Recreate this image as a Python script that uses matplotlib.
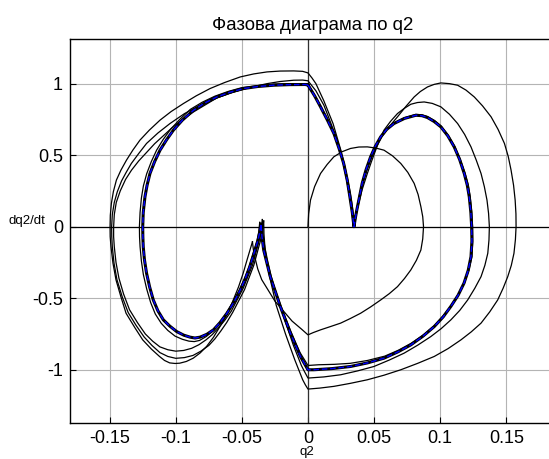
import matplotlib
matplotlib.use('Agg')
import matplotlib.pyplot as plt

plt.rcParams['font.family'] = ['Liberation Sans', 'DejaVu Sans']

# start of the trajectory: small right loop, then up to the first left cusp
start_q = [0.0, 0.0005, 0.0019, 0.005, 0.0095, 0.0145, 0.0196, 0.026, 0.0322, 0.0385, 0.0449,
           0.0512, 0.0575, 0.064, 0.0702, 0.0755, 0.0803, 0.0833, 0.0854, 0.0868, 0.0874,
           0.0868, 0.0854, 0.082, 0.0778, 0.073, 0.0677, 0.0615, 0.055, 0.0475, 0.0398,
           0.032, 0.0247, 0.017, 0.0095, 0.004, 0.0,
           -0.005, -0.012, -0.0185, -0.025, -0.030, -0.035, -0.038, -0.040, -0.0413, -0.042]
start_dq = [0.0, 0.09, 0.186, 0.28, 0.372, 0.435, 0.489, 0.525, 0.547, 0.557, 0.558,
            0.55, 0.535, 0.495, 0.442, 0.38, 0.303, 0.225, 0.14, 0.07, 0.0,
            -0.085, -0.163, -0.235, -0.302, -0.362, -0.419, -0.468, -0.512, -0.56, -0.605,
            -0.642, -0.674, -0.698, -0.721, -0.74, -0.756,
            -0.715, -0.66, -0.59, -0.52, -0.445, -0.37, -0.295, -0.22, -0.16, -0.105]

# lap 1: widest left lobe, widest right lobe
lap1_q = [-0.042, -0.0439, -0.0465, -0.049, -0.0525, -0.0565, -0.061, -0.0666, -0.0715, -0.0767,
          -0.0815, -0.0868, -0.092, -0.097, -0.1005, -0.1046, -0.1085, -0.1123, -0.1185, -0.125,
          -0.131, -0.1376, -0.1415, -0.1452, -0.1475, -0.149, -0.1496, -0.1497, -0.1495, -0.1487,
          -0.1472, -0.1449, -0.1415, -0.1373, -0.1325, -0.1271, -0.12, -0.1119, -0.1035, -0.0942,
          -0.0845, -0.074, -0.063, -0.0512, -0.041, -0.031, -0.021, -0.0108, -0.004, 0.0,
          0.003, 0.006, 0.009, 0.012, 0.0155, 0.019, 0.022, 0.025, 0.0277, 0.030, 0.032,
          0.0335, 0.0343, 0.035,
          0.0358, 0.0375, 0.039, 0.041, 0.0443, 0.048, 0.052, 0.056, 0.0615, 0.0677, 0.074,
          0.0803, 0.085, 0.0904, 0.0955, 0.1005, 0.107, 0.1132, 0.1195, 0.1258, 0.132, 0.1385,
          0.1438, 0.1486, 0.1515, 0.1536, 0.1555, 0.1567, 0.1573, 0.1574, 0.1569, 0.1558, 0.1538,
          0.1511, 0.1476, 0.1435, 0.1375, 0.1309, 0.1235, 0.1157, 0.106, 0.0955, 0.083, 0.0702,
          0.0575, 0.0449, 0.032, 0.0196, 0.009, 0.0,
          -0.002, -0.004, -0.007, -0.010, -0.0135, -0.017, -0.0205, -0.024, -0.0265, -0.029,
          -0.031, -0.0325, -0.0333, -0.0335]
lap1_dq = [-0.105, -0.163, -0.245, -0.325, -0.42, -0.512, -0.61, -0.698, -0.773, -0.837,
           -0.882, -0.919, -0.942, -0.954, -0.956, -0.952, -0.935, -0.907, -0.855, -0.791,
           -0.705, -0.605, -0.49, -0.372, -0.255, -0.14, -0.07, 0.0, 0.08, 0.163,
           0.245, 0.326, 0.395, 0.465, 0.535, 0.605, 0.675, 0.745, 0.805, 0.861,
           0.915, 0.966, 1.008, 1.047, 1.068, 1.082, 1.088, 1.089, 1.086, 1.075,
           1.04, 1.0, 0.94, 0.88, 0.80, 0.72, 0.625, 0.53, 0.43, 0.33, 0.24,
           0.15, 0.075, 0.0,
           0.07, 0.15, 0.225, 0.30, 0.39, 0.48, 0.56, 0.63, 0.70, 0.768, 0.84,
           0.907, 0.945, 0.977, 0.995, 1.005, 1.0, 0.989, 0.955, 0.907, 0.845, 0.768,
           0.68, 0.582, 0.49, 0.396, 0.29, 0.186, 0.09, 0.0, -0.09, -0.186, -0.27,
           -0.349, -0.43, -0.512, -0.595, -0.674, -0.735, -0.791, -0.852, -0.907, -0.955, -1.0,
           -1.038, -1.07, -1.095, -1.116, -1.128, -1.135,
           -1.105, -1.07, -1.0, -0.93, -0.84, -0.75, -0.65, -0.55, -0.45, -0.35,
           -0.25, -0.15, -0.05, 0.04]

# lap 2
lap2_q = [-0.0335, -0.0345, -0.036, -0.0385, -0.041, -0.0445, -0.048, -0.0525, -0.057, -0.0615,
          -0.066, -0.0705, -0.075, -0.081, -0.087, -0.0935, -0.1, -0.106, -0.112, -0.118,
          -0.124, -0.13, -0.136, -0.1405, -0.1445, -0.1467, -0.148, -0.1484, -0.1485, -0.148,
          -0.1465, -0.1442, -0.141, -0.1375, -0.1336, -0.128, -0.1221, -0.1135, -0.1044, -0.0935,
          -0.0816, -0.069, -0.0563, -0.0435, -0.031, -0.021, -0.0108, -0.004, 0.0,
          0.003, 0.006, 0.009, 0.012, 0.0158, 0.0195, 0.023, 0.026, 0.0287, 0.031, 0.033, 0.0345,
          0.0358, 0.038, 0.041, 0.0449, 0.048, 0.051, 0.054, 0.0575, 0.0625, 0.0677, 0.0728,
          0.0778, 0.0828, 0.0879, 0.094, 0.1005, 0.107, 0.1132, 0.1185, 0.1233, 0.1273, 0.1309,
          0.1334, 0.1354, 0.1366, 0.1372, 0.1369, 0.136, 0.1338, 0.1309, 0.1262, 0.1208, 0.1148,
          0.1081, 0.1008, 0.0929, 0.083, 0.0727, 0.0615, 0.0499, 0.0375, 0.0247, 0.012, 0.0,
          -0.0025, -0.005, -0.008, -0.011, -0.0145, -0.018, -0.0215, -0.025, -0.028, -0.0305,
          -0.0325, -0.034, -0.0345]
lap2_dq = [0.04, -0.03, -0.1, -0.185, -0.27, -0.355, -0.44, -0.52, -0.6, -0.67,
           -0.73, -0.785, -0.83, -0.87, -0.9, -0.915, -0.92, -0.907, -0.88, -0.83,
           -0.77, -0.69, -0.6, -0.49, -0.37, -0.255, -0.14, -0.07, 0.0, 0.085,
           0.17, 0.245, 0.32, 0.38, 0.442, 0.512, 0.582, 0.655, 0.721, 0.79,
           0.849, 0.9, 0.942, 0.974, 1.0, 1.015, 1.024, 1.025, 1.02,
           0.985, 0.95, 0.9, 0.85, 0.76, 0.67, 0.57, 0.47, 0.355, 0.24, 0.12, 0.0,
           0.07, 0.15, 0.26, 0.372, 0.455, 0.53, 0.605, 0.675, 0.737, 0.791, 0.827,
           0.856, 0.868, 0.872, 0.862, 0.838, 0.786, 0.721, 0.645, 0.558, 0.465, 0.372,
           0.28, 0.186, 0.093, 0.0, -0.093, -0.186, -0.27, -0.349, -0.43, -0.512, -0.585,
           -0.651, -0.712, -0.768, -0.828, -0.884, -0.932, -0.977, -1.008, -1.035, -1.05, -1.058,
           -1.015, -0.97, -0.9, -0.83, -0.735, -0.64, -0.54, -0.44, -0.34, -0.24,
           -0.15, -0.06, 0.05]

# lap 3
lap3_q = [-0.0345, -0.0355, -0.037, -0.0395, -0.042, -0.0455, -0.049, -0.0535, -0.058, -0.063,
          -0.068, -0.0725, -0.077, -0.0825, -0.088, -0.094, -0.1, -0.106, -0.112, -0.1175,
          -0.123, -0.129, -0.135, -0.1395, -0.143, -0.1452, -0.1465, -0.147, -0.147, -0.1465,
          -0.145, -0.142, -0.138, -0.1335, -0.128, -0.122, -0.116, -0.1095, -0.103, -0.0955,
          -0.087, -0.078, -0.069, -0.0585, -0.048, -0.037, -0.026, -0.013, 0.0,
          0.005, 0.0095, 0.0147, 0.0196, 0.0235, 0.027, 0.0297, 0.0317, 0.0335, 0.035,
          0.0372, 0.039, 0.0412, 0.0443, 0.0476, 0.0513, 0.0553, 0.0598, 0.0652, 0.073, 0.0815,
          0.0862, 0.0905, 0.0958, 0.1008, 0.106, 0.111, 0.115, 0.1188, 0.1212, 0.1227, 0.1239,
          0.1245, 0.1246, 0.124, 0.1218, 0.1185, 0.1138, 0.1085, 0.1025, 0.096, 0.0875, 0.078,
          0.0685, 0.058, 0.045, 0.032, 0.02, 0.008, 0.0,
          -0.003, -0.006, -0.0098, -0.0135, -0.0173, -0.021, -0.0248, -0.0285, -0.031, -0.033,
          -0.035, -0.0365]
lap3_dq = [0.05, -0.03, -0.1, -0.185, -0.27, -0.35, -0.43, -0.51, -0.59, -0.655,
           -0.71, -0.755, -0.79, -0.825, -0.85, -0.865, -0.87, -0.86, -0.84, -0.8,
           -0.75, -0.67, -0.58, -0.47, -0.36, -0.25, -0.14, -0.07, 0.0, 0.085,
           0.17, 0.25, 0.33, 0.395, 0.46, 0.52, 0.58, 0.635, 0.69, 0.745,
           0.80, 0.85, 0.9, 0.935, 0.965, 0.982, 0.995, 1.0, 1.0,
           0.92, 0.845, 0.752, 0.66, 0.555, 0.45, 0.33, 0.215, 0.105, 0.0,
           0.12, 0.21, 0.30, 0.395, 0.49, 0.565, 0.632, 0.685, 0.727, 0.762, 0.785,
           0.782, 0.77, 0.742, 0.703, 0.64, 0.562, 0.475, 0.375, 0.295, 0.21, 0.105,
           0.0, -0.105, -0.21, -0.30, -0.39, -0.472, -0.55, -0.62, -0.688, -0.755, -0.815,
           -0.863, -0.905, -0.935, -0.955, -0.962, -0.965, -0.97,
           -0.925, -0.88, -0.80, -0.72, -0.63, -0.54, -0.44, -0.34, -0.25, -0.16,
           -0.07, 0.03]

# lap 4: left lobe just outside the limit cycle
lap4_q = [-0.0365, -0.0372, -0.0385, -0.0415, -0.0445, -0.048, -0.052, -0.057, -0.062, -0.067,
          -0.072, -0.077, -0.082, -0.086, -0.09, -0.095, -0.1005, -0.106, -0.111, -0.1155,
          -0.119, -0.122, -0.1245, -0.126, -0.127, -0.1274, -0.1275, -0.127, -0.126, -0.1245,
          -0.122, -0.1185, -0.1145, -0.1095, -0.104, -0.097, -0.089, -0.08, -0.0705, -0.0605,
          -0.05, -0.0385, -0.027, -0.014, 0.0]
lap4_dq = [0.03, -0.035, -0.1, -0.19, -0.28, -0.365, -0.445, -0.53, -0.61, -0.675,
           -0.73, -0.768, -0.795, -0.803, -0.80, -0.787, -0.765, -0.725, -0.675, -0.61,
           -0.53, -0.435, -0.335, -0.24, -0.14, -0.07, 0.0, 0.1, 0.2, 0.285,
           0.37, 0.455, 0.535, 0.61, 0.68, 0.75, 0.82, 0.87, 0.912, 0.945,
           0.972, 0.986, 0.996, 0.998, 0.995]

# limit cycle
cycle_q = [0.0, 0.005, 0.0095, 0.0147, 0.0196, 0.0236, 0.027, 0.0297, 0.0317, 0.0335, 0.0348,
           0.0358, 0.037, 0.039, 0.041, 0.044, 0.0474, 0.051, 0.055, 0.0595, 0.065, 0.073,
           0.0816, 0.0862, 0.0904, 0.0955, 0.1005, 0.1058, 0.1106, 0.1147, 0.1182, 0.1205, 0.122,
           0.1232, 0.1238, 0.124, 0.1233, 0.1212, 0.118, 0.1135, 0.108, 0.1023, 0.0955, 0.087,
           0.0778, 0.068, 0.0575, 0.045, 0.0322, 0.018, 0.0044, 0.0,
           -0.0028, -0.0057, -0.0095, -0.0133, -0.0171, -0.0209, -0.0247, -0.0285, -0.031,
           -0.0335, -0.0348, -0.0355,
           -0.0365, -0.038, -0.041, -0.044, -0.0475, -0.0512, -0.056, -0.0613, -0.0665, -0.0715,
           -0.0765, -0.0816, -0.0855, -0.0892, -0.094, -0.0993, -0.1045, -0.1094, -0.1135, -0.117,
           -0.1198, -0.1221, -0.1237, -0.1246, -0.1249, -0.125, -0.1246, -0.1233, -0.1217, -0.1195,
           -0.116, -0.1119, -0.107, -0.1018, -0.095, -0.0866, -0.078, -0.0689, -0.059, -0.0487,
           -0.038, -0.026, -0.014, -0.002, 0.0]
cycle_dq = [0.99, 0.915, 0.838, 0.745, 0.652, 0.545, 0.442, 0.325, 0.209, 0.10, 0.0,
            0.06, 0.12, 0.21, 0.303, 0.40, 0.489, 0.563, 0.628, 0.68, 0.721, 0.757,
            0.779, 0.776, 0.763, 0.735, 0.698, 0.635, 0.558, 0.47, 0.372, 0.29, 0.209,
            0.10, 0.0, -0.10, -0.209, -0.305, -0.395, -0.48, -0.558, -0.63, -0.698, -0.765,
            -0.826, -0.875, -0.919, -0.952, -0.977, -0.992, -1.0, -1.0,
            -0.955, -0.907, -0.826, -0.744, -0.651, -0.558, -0.453, -0.349, -0.256,
            -0.163, -0.07, 0.02,
            -0.04, -0.10, -0.19, -0.279, -0.365, -0.442, -0.527, -0.605, -0.67, -0.721,
            -0.752, -0.772, -0.778, -0.772, -0.758, -0.733, -0.695, -0.651, -0.588, -0.512,
            -0.42, -0.325, -0.23, -0.14, -0.07, 0.0, 0.10, 0.209, 0.29, 0.372,
            0.455, 0.535, 0.607, 0.675, 0.745, 0.814, 0.865, 0.907, 0.94, 0.966,
            0.98, 0.989, 0.993, 0.994, 0.99]

xticks = [-0.15, -0.1, -0.05, 0, 0.05, 0.1, 0.15]
xtick_labels = ['-0.15', '-0.1', '-0.05', '0', '0.05', '0.1', '0.15']
yticks = [-1, -0.5, 0, 0.5, 1]
ytick_labels = ['-1', '-0.5', '0', '0.5', '1']

fig = plt.figure(figsize=(5.49, 4.59), dpi=100)
# right edge of the axes box lies just outside the picture, as in the original
ax = fig.add_axes([70/549, 36.3/459, 486/549, 383.4/459])

ax.grid(True, color='#b4b4b4', linewidth=0.8, zorder=0.5)
ax.axhline(0, color='black', linewidth=0.9, zorder=2)
ax.axvline(0, color='#303030', linewidth=0.9, zorder=2)

for q, dq in [(start_q, start_dq), (lap1_q, lap1_dq), (lap2_q, lap2_dq),
              (lap3_q, lap3_dq), (lap4_q, lap4_dq)]:
    ax.plot(q, dq, color='black', linewidth=0.9, zorder=3)
ax.plot(cycle_q, cycle_dq, color='black', linewidth=2.2, zorder=4)
ax.plot(cycle_q, cycle_dq, color='#0000ff', linewidth=1.0, dashes=(4, 2), zorder=5)

ax.set_xlim(-0.18, 0.1876)
ax.set_ylim(-1.37, 1.31)
ax.set_xticks(xticks)
ax.set_xticklabels(xtick_labels)
ax.set_yticks(yticks)
ax.set_yticklabels(ytick_labels)
ax.tick_params(direction='in', length=4, labelsize=13, pad=5)
for s in ax.spines.values():
    s.set_linewidth(1.0)

ax.set_title('Фазова диаграма по q2', fontsize=13.4, pad=7)
fig.text(27/549, 1 - 221/459, 'dq2/dt', fontsize=9.5, ha='center', va='center')
fig.text(307/549, 1 - 452/459, 'q2', fontsize=9.5, ha='center', va='center')

fig.savefig('out.png', dpi=100)
